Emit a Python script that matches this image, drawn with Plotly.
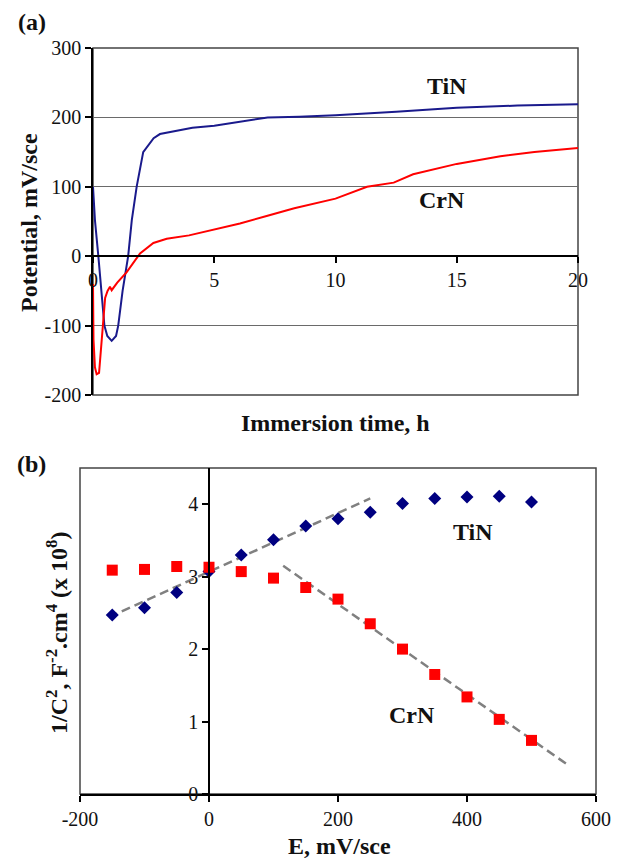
import plotly.graph_objects as go

# ---- panel (a): open-circuit potential vs immersion time ----
t_tin = [0, 0.08, 0.22, 0.33, 0.47, 0.59, 0.77, 0.95, 1.04, 1.22, 1.45, 1.6, 1.8, 2.07, 2.5, 2.76,
         3.3, 4.1, 5.0, 5.8, 6.6, 7.2, 8.5, 10, 12.5, 15, 17.5, 20]
v_tin = [100, 52, 0, -50, -100, -115, -122, -115, -100, -50, 0, 52, 100, 150, 170, 176,
         180, 185, 188, 192, 197, 200, 201, 203, 208, 214, 217, 219]

t_crn = [0, 0.02, 0.08, 0.15, 0.25, 0.36, 0.43, 0.5, 0.6, 0.7, 0.77, 1.0, 1.39, 1.94, 2.49,
         3.04, 3.96, 4.96, 6.06, 7.16, 8.3, 10, 11.3, 12.4, 13.2, 15, 16.8, 18.2, 20]
v_crn = [-40, -120, -160, -170, -168, -121, -92, -60, -50, -44, -49, -38, -23, 4, 19,
         25, 30, 38, 47, 58, 69, 83, 100, 106, 118, 133, 144, 150, 156]

a_xticks = [0, 5, 10, 15, 20]
a_yticks = [-200, -100, 0, 100, 200, 300]
a_yticktext = ["-200", "-100", "0", "100", "200", "300"]

# ---- panel (b): Mott-Schottky ----
E_vals = [-150, -100, -50, 0, 50, 100, 150, 200, 250, 300, 350, 400, 450, 500]
ms_tin = [2.47, 2.57, 2.78, 3.07, 3.30, 3.51, 3.70, 3.80, 3.89, 4.01, 4.08, 4.10, 4.11, 4.03]
ms_crn = [3.09, 3.10, 3.14, 3.13, 3.07, 2.98, 2.85, 2.69, 2.35, 2.00, 1.65, 1.34, 1.03, 0.74]

tin_fit_x = [-155, 250]
tin_fit_y = [2.44, 4.08]
crn_fit_x = [115, 555]
crn_fit_y = [3.15, 0.41]

b_xticks = [-200, 0, 200, 400, 600]
b_xticktext = ["-200", "0", "200", "400", "600"]
b_yticks = [0, 1, 2, 3, 4]

FONT = "Liberation Serif, Times New Roman, serif"
W, H = 627, 859

# domains (paper)
xa_dom = [93 / W, 578 / W]
ya_dom = [1 - 395 / H, 1 - 48 / H]
xb_dom = [80 / W, 596 / W]
yb_dom = [1 - 794 / H, 1 - 468 / H]

ya_range = [-200, 300]
xb_range = [-200, 600]
pos_xa = ya_dom[0] + (0 - ya_range[0]) / (ya_range[1] - ya_range[0]) * (ya_dom[1] - ya_dom[0])
pos_yb = xb_dom[0] + (0 - xb_range[0]) / (xb_range[1] - xb_range[0]) * (xb_dom[1] - xb_dom[0])

fig = go.Figure()

fig.add_trace(go.Scatter(x=t_tin, y=v_tin, mode="lines", line=dict(color="#1a1a8c", width=2),
                         xaxis="x", yaxis="y", showlegend=False))
fig.add_trace(go.Scatter(x=t_crn, y=v_crn, mode="lines", line=dict(color="#ff0000", width=2),
                         xaxis="x", yaxis="y", showlegend=False))

fig.add_trace(go.Scatter(x=tin_fit_x, y=tin_fit_y, mode="lines",
                         line=dict(color="#808080", width=2.5, dash="9px,5px"),
                         xaxis="x2", yaxis="y2", showlegend=False))
fig.add_trace(go.Scatter(x=crn_fit_x, y=crn_fit_y, mode="lines",
                         line=dict(color="#808080", width=2.5, dash="9px,5px"),
                         xaxis="x2", yaxis="y2", showlegend=False))
fig.add_trace(go.Scatter(x=E_vals, y=ms_tin, mode="markers",
                         marker=dict(symbol="diamond", size=10, color="#000080"),
                         xaxis="x2", yaxis="y2", showlegend=False))
fig.add_trace(go.Scatter(x=E_vals, y=ms_crn, mode="markers",
                         marker=dict(symbol="square", size=11, color="#ff0000"),
                         xaxis="x2", yaxis="y2", showlegend=False))

tickfont = dict(family=FONT, size=20, color="#111")
common = dict(showline=True, linecolor="black", linewidth=1.5, ticks="outside", ticklen=6,
              tickwidth=1.5, tickcolor="black", tickfont=tickfont, zeroline=False,
              automargin=False)

fig.update_layout(
    template="none",
    width=W, height=H, margin=dict(l=0, r=0, t=0, b=0, pad=0),
    paper_bgcolor="white", plot_bgcolor="white",
    xaxis=dict(domain=xa_dom, range=[0, 20], tickvals=a_xticks, anchor="free",
               position=pos_xa, showgrid=False, **common),
    yaxis=dict(domain=ya_dom, range=ya_range, tickvals=a_yticks, ticktext=a_yticktext, anchor="x",
               showgrid=True, gridcolor="#6a6a6a", gridwidth=1.2, **common),
    xaxis2=dict(domain=xb_dom, range=xb_range, tickvals=b_xticks, ticktext=b_xticktext, anchor="y2",
                showgrid=False, **common),
    yaxis2=dict(domain=yb_dom, range=[0, 4.5], tickvals=b_yticks, anchor="free",
                position=pos_yb, showgrid=False, **common),
    shapes=[
        dict(type="rect", xref="x domain", yref="y domain", x0=0, x1=1, y0=0, y1=1,
             line=dict(color="#444", width=1.5), layer="below"),
        dict(type="rect", xref="x2 domain", yref="y2 domain", x0=0, x1=1, y0=0, y1=1,
             line=dict(color="#444", width=1.5), layer="below"),
    ],
)

bold = dict(family=FONT, size=24, color="#111")
ann = [
    dict(text="<b>(a)</b>", x=16 / W, y=1 - 22 / H, xanchor="left", yanchor="middle"),
    dict(text="<b>(b)</b>", x=15 / W, y=1 - 464 / H, xanchor="left", yanchor="middle"),
    dict(text="<b>Potential, mV/sce</b>", x=29 / W, y=1 - 223 / H, textangle=-90,
         xanchor="center", yanchor="middle"),
    dict(text="<b>Immersion time, h</b>", x=335 / W, y=1 - 423 / H, xanchor="center", yanchor="middle"),
    dict(text="<b>1/C<sup>2</sup>, F<sup>-2</sup>.cm<sup>4</sup> (x 10<sup>8</sup>)</b>", x=57 / W,
         y=1 - 633 / H, textangle=-90, xanchor="center", yanchor="middle"),
    dict(text="<b>E, mV/sce</b>", x=339 / W, y=1 - 846 / H, xanchor="center", yanchor="middle"),
]
for a in ann:
    fig.add_annotation(xref="paper", yref="paper", showarrow=False, font=bold, **a)

fig.add_annotation(text="<b>TiN</b>", x=14.6, y=245, xref="x", yref="y", showarrow=False, font=bold)
fig.add_annotation(text="<b>CrN</b>", x=14.4, y=81, xref="x", yref="y", showarrow=False, font=bold)
fig.add_annotation(text="<b>TiN</b>", x=410, y=3.62, xref="x2", yref="y2", showarrow=False, font=bold)
fig.add_annotation(text="<b>CrN</b>", x=315, y=1.09, xref="x2", yref="y2", showarrow=False, font=bold)

fig.write_html("out.html", config={"displayModeBar": False},
               post_script="document.body.style.margin='0';document.body.style.overflow='hidden';")
